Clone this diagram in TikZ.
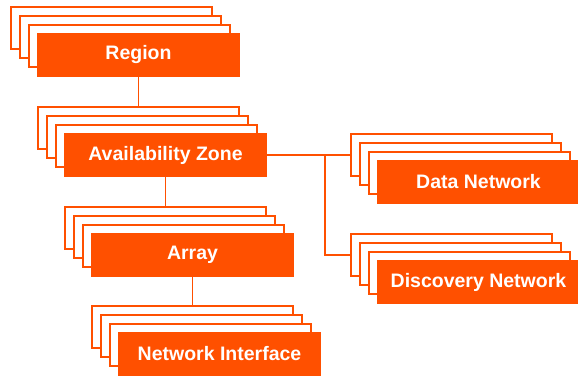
\documentclass[tikz,border=0pt]{standalone}
\usepackage{fontspec}
\setmainfont{Liberation Sans}
\definecolor{brand}{HTML}{FF5000}
\tikzset{
  card/.style={draw=brand, line width=1.4pt, fill=white, anchor=north west,
    minimum width=201pt, minimum height=42pt, inner sep=0pt, outer sep=0pt},
  cardfront/.style={card, fill=brand, draw=brand, text=white,
    font=\fontsize{19.5}{22}\selectfont\bfseries},
  link/.style={draw=brand, line width=1.4pt}
}
% a stack of four cards; the front card carries the label
\newcommand{\cardstack}[4]{%
  \node[card] (#1-3) at (#2pt, -#3pt) {};
  \node[card] (#1-2) at ([xshift=9pt, yshift=-9pt]#1-3.north west) {};
  \node[card] (#1-1) at ([xshift=9pt, yshift=-9pt]#1-2.north west) {};
  \node[cardfront] (#1) at ([xshift=9pt, yshift=-9pt]#1-1.north west) {#4};
}
\begin{document}
\begin{tikzpicture}[x=1pt, y=1pt]
  \useasboundingbox (0,0) rectangle (578,-377);
  \cardstack{reg}{11}{7}{Region}
  \cardstack{az}{38}{107}{Availability Zone}
  \cardstack{arr}{65}{207}{Array}
  \cardstack{ni}{92}{306}{Network Interface}
  \cardstack{dn}{351}{134}{Data Network}
  \cardstack{disc}{351}{234}{Discovery Network}
  % connectors
  \draw[link] (reg.south) -- (reg.south |- az-3.north);
  \draw[link] (az.south) -- (az.south |- arr-3.north);
  \draw[link] (arr.south) -- (arr.south |- ni-3.north);
  \draw[link] (az.east) -- (dn-3.west);
  \coordinate (branch) at ([xshift=-26pt]dn-3.west);
  \draw[link] (branch) |- (disc-3.west);
\end{tikzpicture}
\end{document}
